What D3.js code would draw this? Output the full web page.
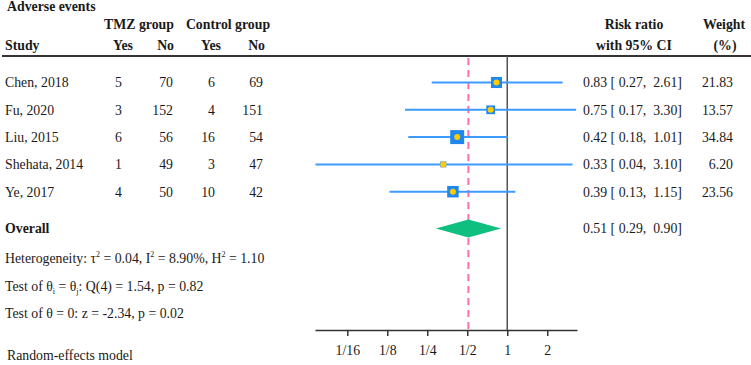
<!DOCTYPE html>
<html>
<head>
<meta charset="utf-8">
<script src="https://cdn.jsdelivr.net/npm/d3@7"></script>
<style>
  html, body { margin: 0; padding: 0; background: #fff; }
  svg { display: block; font-family: "Liberation Serif", "Times New Roman", serif; }
  text { font-size: 13.8px; fill: #1a1a1a; white-space: pre; }
  .bold { font-weight: bold; }
  .axis path, .axis line { stroke: #333; stroke-width: 1.5px; }
  .axis text { font-family: "Liberation Serif", "Times New Roman", serif; font-size: 13.8px; fill: #1a1a1a; }
</style>
</head>
<body>
<div id="svg-container"></div>
<script>
/* global d3 */
(function () {
  'use strict'

  // Study rows
  var studies = ['Chen, 2018', 'Fu, 2020', 'Liu, 2015', 'Shehata, 2014', 'Ye, 2017']
  var tmzYes = [5, 3, 6, 1, 4]
  var tmzNo = [70, 152, 56, 49, 50]
  var ctrlYes = [6, 4, 16, 3, 10]
  var ctrlNo = [69, 151, 54, 47, 42]
  var riskRatio = [0.83, 0.75, 0.42, 0.33, 0.39]
  var ciLow = [0.27, 0.17, 0.18, 0.036, 0.13]
  var ciHigh = [2.61, 3.30, 1.01, 3.10, 1.15]
  var weights = [21.83, 13.57, 34.84, 6.20, 23.56]

  // Overall (random effects)
  var overallRR = 0.51
  var overallLow = 0.29
  var overallHigh = 0.90

  // Axis ticks
  var tickValues = [1 / 16, 1 / 8, 1 / 4, 1 / 2, 1, 2]
  var tickLabels = ['1/16', '1/8', '1/4', '1/2', '1', '2']

  var dimensions = { w: 751, h: 365 }

  var svg = d3.select('#svg-container').append('svg')
    .attr('width', dimensions.w)
    .attr('height', dimensions.h)

  // log2 scale for risk ratio, row scale for vertical placement
  var x = d3.scaleLog().base(2)
    .domain([1 / 28, 3.35])
    .range([315, 577])
  var row = d3.scaleLinear().domain([0, 1]).range([82.5, 109.8])
  var boxSize = d3.scaleSqrt().domain([0, 35]).range([0, 14])

  var axisY = 330
  var ruleY = 56

  function fmt (v) { return v.toFixed(2) }
  function ciText (rr, lo, hi) {
    return fmt(rr) + ' [ ' + fmt(lo) + ',  ' + fmt(hi) + ']'
  }

  // Header
  var head = svg.append('g').attr('class', 'header')
  head.append('text').attr('class', 'bold').attr('x', 7).attr('y', 11).text('Adverse events')
  head.append('text').attr('class', 'bold').attr('x', 139).attr('y', 29)
    .attr('text-anchor', 'middle').text('TMZ group')
  head.append('text').attr('class', 'bold').attr('x', 228).attr('y', 29)
    .attr('text-anchor', 'middle').text('Control group')
  head.append('text').attr('class', 'bold').attr('x', 5).attr('y', 50).text('Study')
  var subHeads = [['Yes', 133], ['No', 174], ['Yes', 221], ['No', 265]]
  subHeads.forEach(function (s) {
    head.append('text').attr('class', 'bold').attr('x', s[1]).attr('y', 50)
      .attr('text-anchor', 'end').text(s[0])
  })
  head.append('text').attr('class', 'bold').attr('x', 634).attr('y', 29)
    .attr('text-anchor', 'middle').text('Risk ratio')
  head.append('text').attr('class', 'bold').attr('x', 634).attr('y', 50)
    .attr('text-anchor', 'middle').text('with 95% CI')
  head.append('text').attr('class', 'bold').attr('x', 724).attr('y', 29)
    .attr('text-anchor', 'middle').text('Weight')
  head.append('text').attr('class', 'bold').attr('x', 725).attr('y', 50)
    .attr('text-anchor', 'middle').text('(%)')

  svg.append('line')
    .attr('x1', 2).attr('x2', dimensions.w)
    .attr('y1', ruleY).attr('y2', ruleY)
    .attr('stroke', '#333').attr('stroke-width', 2)

  // Reference lines
  svg.append('line')
    .attr('x1', x(1)).attr('x2', x(1))
    .attr('y1', ruleY).attr('y2', axisY)
    .attr('stroke', '#555').attr('stroke-width', 1.5)

  svg.append('line')
    .attr('x1', x(overallRR)).attr('x2', x(overallRR))
    .attr('y1', ruleY + 2).attr('y2', axisY)
    .attr('stroke', '#ff6eb4').attr('stroke-width', 2)
    .attr('stroke-dasharray', '7,5')

  // Study rows
  var rows = svg.append('g').attr('class', 'rows')
  studies.forEach(function (name, i) {
    var y = row(i)
    var g = rows.append('g')
    g.append('text').attr('x', 5).attr('y', y).attr('dy', '0.35em').text(name)
    var cells = [[tmzYes[i], 122], [tmzNo[i], 173], [ctrlYes[i], 215], [ctrlNo[i], 263]]
    cells.forEach(function (c) {
      g.append('text').attr('x', c[1]).attr('y', y).attr('dy', '0.35em')
        .attr('text-anchor', 'end').text(c[0])
    })

    g.append('line')
      .attr('x1', x(ciLow[i])).attr('x2', x(ciHigh[i]))
      .attr('y1', y).attr('y2', y)
      .attr('stroke', '#3d9bff').attr('stroke-width', 2)
    var s = boxSize(weights[i])
    g.append('rect')
      .attr('x', x(riskRatio[i]) - s / 2).attr('y', y - s / 2)
      .attr('width', s).attr('height', s)
      .attr('fill', '#1e88f0')
    g.append('circle')
      .attr('cx', x(riskRatio[i])).attr('cy', y).attr('r', 3)
      .attr('fill', '#ffcc00')

    g.append('text').attr('x', 583).attr('y', y).attr('dy', '0.35em')
      .text(ciText(riskRatio[i], ciLow[i], ciHigh[i]))
    g.append('text').attr('x', 733).attr('y', y).attr('dy', '0.35em')
      .attr('text-anchor', 'end').text(fmt(weights[i]))
  })

  // Overall row
  var yo = row(5.35)
  svg.append('text').attr('class', 'bold').attr('x', 5).attr('y', yo).attr('dy', '0.35em').text('Overall')
  svg.append('path')
    .attr('d', 'M' + x(overallLow) + ',' + yo +
      'L' + x(overallRR) + ',' + (yo - 9) +
      'L' + x(overallHigh) + ',' + yo +
      'L' + x(overallRR) + ',' + (yo + 9) + 'Z')
    .attr('fill', '#0fbf7f')
  svg.append('text').attr('x', 583).attr('y', yo).attr('dy', '0.35em')
    .text(ciText(overallRR, overallLow, overallHigh))

  // Statistics text
  function sup (t, s) { t.append('tspan').attr('font-size', '8px').attr('dy', '-6').text(s) }
  function back (t, s, dy) { t.append('tspan').attr('dy', dy).text(s) }

  var het = svg.append('text').attr('x', 5).attr('y', row(6.45)).attr('dy', '0.35em')
  het.append('tspan').text('Heterogeneity: \u03c4')
  sup(het, '2'); back(het, ' = 0.04, I', 6)
  sup(het, '2'); back(het, ' = 8.90%, H', 6)
  sup(het, '2'); back(het, ' = 1.10', 6)

  var t1 = svg.append('text').attr('x', 5).attr('y', row(7.45)).attr('dy', '0.35em')
  t1.append('tspan').text('Test of \u03b8')
  t1.append('tspan').attr('font-size', '8px').attr('dy', 3).text('i')
  back(t1, ' = \u03b8', -3)
  t1.append('tspan').attr('font-size', '8px').attr('dy', 3).text('j')
  back(t1, ': Q(4) = 1.54, p = 0.82', -3)

  svg.append('text').attr('x', 5).attr('y', row(8.45)).attr('dy', '0.35em')
    .text('Test of \u03b8 = 0: z = -2.34, p = 0.02')

  svg.append('text').attr('x', 7).attr('y', 360).text('Random-effects model')

  // Axis
  var axis = d3.axisBottom(x)
    .tickValues(tickValues)
    .tickFormat(function (d, i) { return tickLabels[i] })
    .tickSize(6).tickSizeOuter(0).tickPadding(9)
  svg.append('g').attr('class', 'axis')
    .attr('transform', 'translate(0,' + axisY + ')')
    .call(axis)
}())
</script>
</body>
</html>
